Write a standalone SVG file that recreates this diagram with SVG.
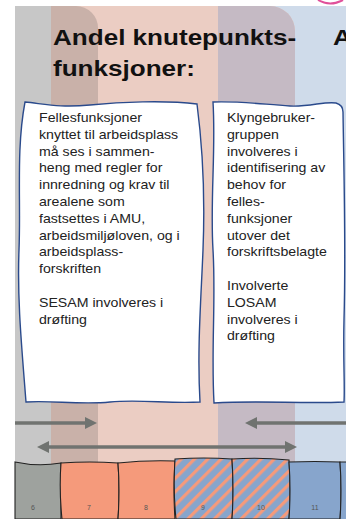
<svg xmlns="http://www.w3.org/2000/svg" width="346" height="519" viewBox="0 0 346 519">
<style>
.title{font-family:"Liberation Sans",Arial,sans-serif;font-weight:bold;font-size:22px;fill:#111}
.body{font-family:"Liberation Sans",Arial,sans-serif;font-size:12px;fill:#222}
.num{font-family:"Liberation Sans",Arial,sans-serif;font-size:7px;fill:#555;text-anchor:middle}
.card{fill:#fff;stroke:#2a4a8c;stroke-width:1.4}
.blk{stroke:#222;stroke-width:1.1}
.arr{stroke:#707370;stroke-width:3.6;fill:none}
</style>
<defs>
<marker id="ah" viewBox="0 0 12 12" refX="6" refY="6" markerWidth="12" markerHeight="12" orient="auto-start-reverse" markerUnits="userSpaceOnUse">
<path d="M0,0 L12,6 L0,12 Z" fill="#707370"/>
</marker>
<pattern id="hatch" patternUnits="userSpaceOnUse" width="9.4" height="10" patternTransform="rotate(45)">
<rect width="9.4" height="10" fill="#87a5cc"/>
<rect width="3.2" height="10" fill="#f59a7b"/>
</pattern>
</defs>
<rect width="346" height="519" fill="#fff"/>
<g id="background">
<rect x="218" y="6" width="128" height="513" fill="#cfdbea"/>
<path d="M51,6 H270 A25,25 0 0 1 295,31 V519 H51 Z" fill="#ebcdc3"/>
<path d="M218,6 H270 A25,25 0 0 1 295,31 V519 H218 Z" fill="#c5bac4"/>
<rect x="15" y="6" width="36" height="513" fill="#c7c7c7"/>
<path d="M51,6 H76 A22,22 0 0 1 98,28 V519 H51 Z" fill="#c9b1a9"/>
<path d="M318,0 Q330,7 343,0" stroke="#e0509a" stroke-width="2" fill="none"/>
</g>
<g id="title">
<text class="title" transform="translate(53,45) scale(1.185,1)">Andel knutepunkts-</text>
<text class="title" transform="translate(53,76) scale(1.185,1)">funksjoner:</text>
<text class="title" transform="translate(333,45) scale(1.185,1)">A</text>
</g>
<g id="card-left">
<path class="card" d="M25,102 C45,104 60,108 90,105 C120,102 165,100 197,104 C203,150 205,200 203,250 C201,300 197,350 200,402 C170,404 140,399 110,402 C80,405 50,400 26,402 C22,350 17,300 19,250 C21,200 16,150 25,102 Z"/>
<g transform="translate(39,0) scale(1.18,1)">
<text class="body" y="122">Fellesfunksjoner</text>
<text class="body" y="138.8">knyttet til arbeidsplass</text>
<text class="body" y="155.6">må ses i sammen-</text>
<text class="body" y="172.4">heng med regler for</text>
<text class="body" y="189.2">innredning og krav til</text>
<text class="body" y="206">arealene som</text>
<text class="body" y="222.8">fastsettes i AMU,</text>
<text class="body" y="239.6">arbeidsmiljøloven, og i</text>
<text class="body" y="256.4">arbeidsplass-</text>
<text class="body" y="273.2">forskriften</text>
<text class="body" y="306.8">SESAM involveres i</text>
<text class="body" y="323.6">drøfting</text>
</g>
</g>
<g id="card-right">
<path class="card" d="M213,102 C240,101 260,104 290,106 C310,107 325,101 336,103 Q343,105 343,112 C344,180 346,250 344,320 C343,360 345,385 344,402 C300,404 260,400 214,403 C211,350 216,300 213,250 C210,200 216,150 213,102 Z"/>
<g transform="translate(227,0) scale(1.18,1)">
<text class="body" y="122">Klyngebruker-</text>
<text class="body" y="138.8">gruppen</text>
<text class="body" y="155.6">involveres i</text>
<text class="body" y="172.4">identifisering av</text>
<text class="body" y="189.2">behov for</text>
<text class="body" y="206">felles-</text>
<text class="body" y="222.8">funksjoner</text>
<text class="body" y="239.6">utover det</text>
<text class="body" y="256.4">forskriftsbelagte</text>
<text class="body" y="290">Involverte</text>
<text class="body" y="306.8">LOSAM</text>
<text class="body" y="323.6">involveres i</text>
<text class="body" y="340.4">drøfting</text>
</g>
</g>
<g id="connectors">
<line class="arr" x1="15" y1="423" x2="91" y2="423" marker-end="url(#ah)"/>
<line class="arr" x1="346" y1="423" x2="251" y2="423" marker-end="url(#ah)"/>
<line class="arr" x1="43" y1="447" x2="291" y2="447" marker-start="url(#ah)" marker-end="url(#ah)"/>
</g>
<g id="box-6">
<path class="blk" d="M15,462 Q38,467 61,463 L61,519 L15,519 Z" fill="#9ea29e"/>
<text class="num" x="33" y="510">6</text>
</g>
<g id="box-7">
<path class="blk" d="M61,463 Q90,461 118,463 Q120,490 118,519 L62,519 Q59,490 61,463 Z" fill="#f59a7b"/>
<text class="num" x="89" y="510">7</text>
</g>
<g id="box-8">
<path class="blk" d="M118,463 Q146,460 175,461 Q173,490 175,519 L118,519 Q120,490 118,463 Z" fill="#f59a7b"/>
<text class="num" x="146" y="510">8</text>
</g>
<g id="box-9">
<path class="blk" d="M175,459 Q204,457 232,459 Q234,490 232,519 L176,519 Q173,490 175,459 Z" fill="url(#hatch)"/>
<text class="num" x="203" y="510">9</text>
</g>
<g id="box-10">
<path class="blk" d="M232,459 Q260,457 289,460 Q291,490 289,519 L232,519 Q234,490 232,459 Z" fill="url(#hatch)"/>
<text class="num" x="261" y="510">10</text>
</g>
<g id="box-11">
<path class="blk" d="M289,462 Q315,461 340,462 Q342,490 340,519 L289,519 Q291,490 289,462 Z" fill="#87a5cc"/>
<text class="num" x="315" y="510">11</text>
</g>
<g id="box-12">
<path class="blk" d="M340,462 L347,462 L347,520 L340,520 Q342,490 340,462 Z" fill="#87a5cc"/>
</g>
</svg>
